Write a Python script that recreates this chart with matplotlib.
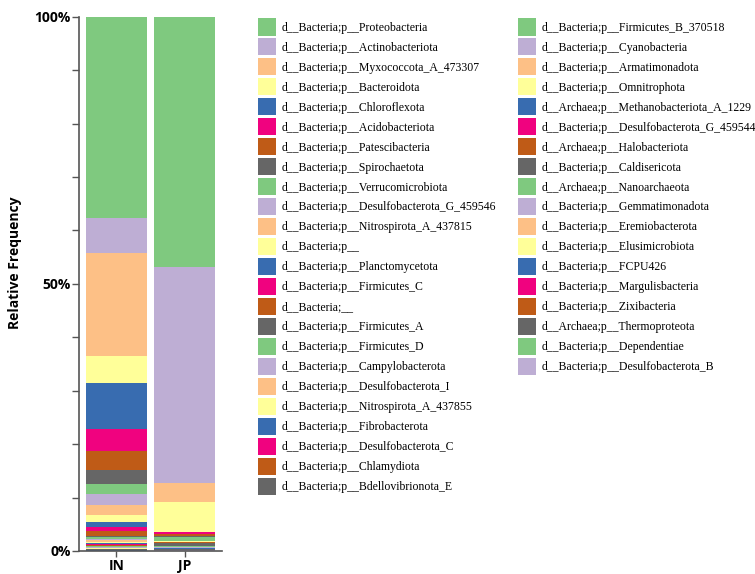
import numpy as np
import matplotlib
matplotlib.use('Agg')
from matplotlib import pyplot as plt
from matplotlib.patches import Patch

samples = ['IN', 'JP']

taxa = [
    'd__Bacteria;p__Proteobacteria',
    'd__Bacteria;p__Actinobacteriota',
    'd__Bacteria;p__Myxococcota_A_473307',
    'd__Bacteria;p__Bacteroidota',
    'd__Bacteria;p__Chloroflexota',
    'd__Bacteria;p__Acidobacteriota',
    'd__Bacteria;p__Patescibacteria',
    'd__Bacteria;p__Spirochaetota',
    'd__Bacteria;p__Verrucomicrobiota',
    'd__Bacteria;p__Desulfobacterota_G_459546',
    'd__Bacteria;p__Nitrospirota_A_437815',
    'd__Bacteria;p__',
    'd__Bacteria;p__Planctomycetota',
    'd__Bacteria;p__Firmicutes_C',
    'd__Bacteria;__',
    'd__Bacteria;p__Firmicutes_A',
    'd__Bacteria;p__Firmicutes_D',
    'd__Bacteria;p__Campylobacterota',
    'd__Bacteria;p__Desulfobacterota_I',
    'd__Bacteria;p__Nitrospirota_A_437855',
    'd__Bacteria;p__Fibrobacterota',
    'd__Bacteria;p__Desulfobacterota_C',
    'd__Bacteria;p__Chlamydiota',
    'd__Bacteria;p__Bdellovibrionota_E',
    'd__Bacteria;p__Firmicutes_B_370518',
    'd__Bacteria;p__Cyanobacteria',
    'd__Bacteria;p__Armatimonadota',
    'd__Bacteria;p__Omnitrophota',
    'd__Archaea;p__Methanobacteriota_A_1229',
    'd__Bacteria;p__Desulfobacterota_G_459544',
    'd__Archaea;p__Halobacteriota',
    'd__Bacteria;p__Caldisericota',
    'd__Archaea;p__Nanoarchaeota',
    'd__Bacteria;p__Gemmatimonadota',
    'd__Bacteria;p__Eremiobacterota',
    'd__Bacteria;p__Elusimicrobiota',
    'd__Bacteria;p__FCPU426',
    'd__Bacteria;p__Margulisbacteria',
    'd__Bacteria;p__Zixibacteria',
    'd__Archaea;p__Thermoproteota',
    'd__Bacteria;p__Dependentiae',
    'd__Bacteria;p__Desulfobacterota_B',
]

# relative abundance (%), same order as taxa
IN_vals = [37.9, 6.5, 19.4, 5.1, 8.6, 4.2, 3.5, 2.6, 1.8, 2.2,
           1.9, 1.25, 1.0, 0.75, 0.85, 0.2, 0.35, 0.3, 0.25, 0.3,
           0.1, 0.2, 0.15, 0.15, 0.1, 0.15, 0.1, 0.08, 0.04, 0.05,
           0.03, 0.03, 0.02, 0.08, 0.04, 0.02, 0.03, 0.02, 0.02, 0.01,
           0.02, 0.01]
JP_vals = [47.0, 40.4, 3.6, 5.7, 0.05, 0.3, 0.45, 0.1, 0.7, 0.08,
           0.05, 0.05, 0.08, 0.05, 0.05, 0.7, 0.1, 0.2, 0.04, 0.05,
           0.1, 0.05, 0.03, 0.03, 0.02, 0.03, 0.02, 0.02, 0.02, 0.02,
           0.01, 0.02, 0.01, 0.02, 0.01, 0.01, 0.01, 0.01, 0.01, 0.01,
           0.01, 0.01]

accent = ['#7fc97f', '#beaed4', '#fdc086', '#ffff99',
          '#386cb0', '#f0027f', '#bf5b17', '#666666']
colors = [accent[i % len(accent)] for i in range(len(taxa))]

data = np.array([IN_vals, JP_vals])
data = data / data.sum(axis=1, keepdims=True) * 100

W, H = 755, 574
fig = plt.figure(figsize=(W/100, H/100), dpi=100)
ax = fig.add_axes([79/W, 1-551/H, (222-79)/W, (551-16.7)/H])

x = np.arange(len(samples))
top = np.full(len(samples), 100.0)
for i, name in enumerate(taxa):
    top = top - data[:, i]
    ax.bar(x, data[:, i], bottom=top, width=0.9, color=colors[i], linewidth=0)

ax.set_xlim(-0.55, 1.55)
ax.set_ylim(0, 100)

sans = 'Open Sans'
ax.set_yticks([0, 50, 100])
ax.set_yticklabels(['0%', '50%', '100%'], fontfamily=sans, fontweight='bold', fontsize=10)
ax.set_yticks(np.arange(0, 101, 10), minor=True)
ax.set_xticks(x)
ax.set_xticklabels(samples, fontfamily=sans, fontweight='bold', fontsize=10)
ax.tick_params(axis='y', which='both', length=5, width=1, color='#555555', pad=1)
ax.tick_params(axis='x', length=4, width=1, color='#555555', pad=2)
for s in ['top', 'right']:
    ax.spines[s].set_visible(False)
for s in ['left', 'bottom']:
    ax.spines[s].set_color('#555555')
    ax.spines[s].set_linewidth(1.2)
ax.set_ylabel('Relative Frequency', fontfamily=sans, fontweight='bold', fontsize=10)
ax.yaxis.set_label_coords(-0.40, 0.54)

handles = [Patch(facecolor=colors[i], edgecolor='none', label=taxa[i]) for i in range(len(taxa))]
leg_kw = dict(loc='upper left', frameon=False, handlelength=1.52, handleheight=1.84,
              handletextpad=0.5, labelspacing=0.25, borderpad=0, borderaxespad=0,
              prop={'family': 'Liberation Serif', 'size': 8.5})
leg1 = fig.legend(handles=handles[:24], bbox_to_anchor=(258/W, 1-18.5/H), **leg_kw)
leg2 = fig.legend(handles=handles[24:], bbox_to_anchor=(518/W, 1-18.5/H), **leg_kw)

fig.savefig('out.png', dpi=100)
